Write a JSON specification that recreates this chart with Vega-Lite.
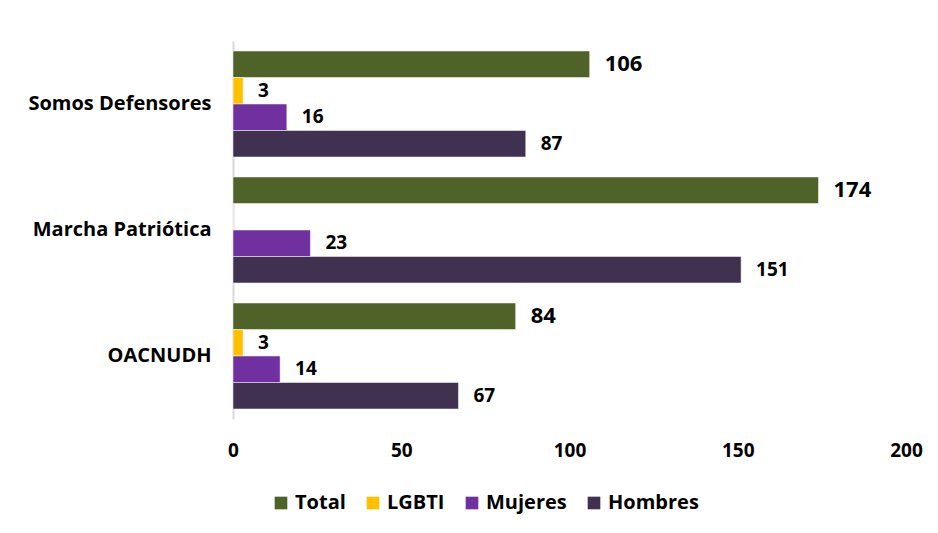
{
  "$schema": "https://vega.github.io/schema/vega-lite/v6.json",
  "width": 673,
  "height": 378,
  "autosize": "none",
  "padding": {"left": 233, "top": 41, "right": 32, "bottom": 114},
  "background": "white",
  "config": {"view": {"stroke": null}, "font": "Open Sans"},
  "data": {
    "values": [
      {"org": "Somos Defensores", "serie": "Total", "value": 106},
      {"org": "Somos Defensores", "serie": "LGBTI", "value": 3},
      {"org": "Somos Defensores", "serie": "Mujeres", "value": 16},
      {"org": "Somos Defensores", "serie": "Hombres", "value": 87},
      {"org": "Marcha Patriótica", "serie": "Total", "value": 174},
      {"org": "Marcha Patriótica", "serie": "LGBTI", "value": 0},
      {"org": "Marcha Patriótica", "serie": "Mujeres", "value": 23},
      {"org": "Marcha Patriótica", "serie": "Hombres", "value": 151},
      {"org": "OACNUDH", "serie": "Total", "value": 84},
      {"org": "OACNUDH", "serie": "LGBTI", "value": 3},
      {"org": "OACNUDH", "serie": "Mujeres", "value": 14},
      {"org": "OACNUDH", "serie": "Hombres", "value": 67}
    ]
  },
  "encoding": {
    "y": {
      "field": "org", "type": "nominal",
      "sort": ["Somos Defensores", "Marcha Patriótica", "OACNUDH"],
      "scale": {"paddingInner": 0.1587, "paddingOuter": 0.0794},
      "axis": {"title": null, "domainColor": "#d9d9d9", "domainWidth": 2, "ticks": false,
               "labelFontSize": 20, "labelFontWeight": "bold", "labelFont": "Open Sans",
               "labelPadding": 22, "labelColor": "#000000", "labelLimit": 400}
    },
    "yOffset": {
      "field": "serie", "type": "nominal",
      "sort": ["Total", "LGBTI", "Mujeres", "Hombres"],
      "scale": {"paddingInner": 0, "paddingOuter": 0}
    },
    "x": {
      "field": "value", "type": "quantitative",
      "scale": {"domain": [0, 200]},
      "axis": {"title": null, "grid": false, "domain": false, "ticks": false,
               "values": [0, 50, 100, 150, 200], "labelFlush": false,
               "labelPadding": 22, "labelFontSize": 19, "labelFontWeight": "bold",
               "labelFont": "Open Sans", "labelColor": "#000000"}
    }
  },
  "layer": [
    {
      "mark": {"type": "bar", "stroke": "white", "strokeWidth": 0.5},
      "encoding": {
        "color": {
          "field": "serie", "type": "nominal",
          "sort": ["Total", "LGBTI", "Mujeres", "Hombres"],
          "scale": {"domain": ["Total", "LGBTI", "Mujeres", "Hombres"],
                    "range": ["#4F6228", "#FFC000", "#7030A0", "#403151"]},
          "legend": {"title": null, "orient": "none", "direction": "horizontal",
                     "legendX": 38, "legendY": 452, "symbolType": "square",
                     "symbolSize": 160, "symbolStrokeWidth": 0,
                     "labelFontSize": 20, "labelFontWeight": "bold", "labelFont": "Open Sans",
                     "labelColor": "#000000", "columnPadding": 17, "labelOffset": 4}
        }
      }
    },
    {
      "transform": [{"filter": "datum.value > 0"}],
      "mark": {"type": "text", "align": "left", "baseline": "middle", "dx": 15,
               "font": "Open Sans", "fontWeight": "bold", "color": "#000000"},
      "encoding": {
        "text": {"field": "value", "type": "quantitative"},
        "size": {"condition": {"test": "datum.serie === 'Total'", "value": 22}, "value": 19}
      }
    }
  ]
}
